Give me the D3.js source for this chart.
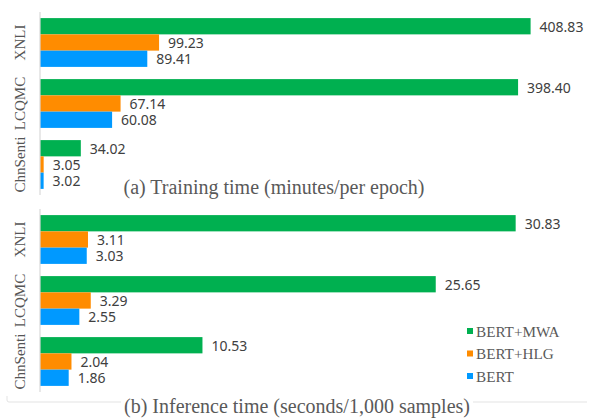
<!DOCTYPE html>
<html>
<head>
<meta charset="utf-8">
<script src="https://cdn.jsdelivr.net/npm/d3@7"></script>
<style>
  body { margin: 0; background: #fff; }
  svg { display: block; }
  .serif { font-family: 'Liberation Serif', 'Tinos', 'Times New Roman', 'DejaVu Serif', serif; }
  .sans { font-family: 'Noto Sans', 'Open Sans', sans-serif; }
</style>
</head>
<body>
<svg id="chart" width="589" height="419"></svg>
<script>
// data
const datasets = ['XNLI', 'LCQMC', 'ChnSenti'];
const models = ['BERT+MWA', 'BERT+HLG', 'BERT'];
const colors = ['#00b050', '#ff8c00', '#0099ff'];

const trainMWA = [408.83, 398.40, 34.02];
const trainHLG = [99.23, 67.14, 3.05];
const trainBERT = [89.41, 60.08, 3.02];

const inferMWA = [30.83, 25.65, 10.53];
const inferHLG = [3.11, 3.29, 2.04];
const inferBERT = [3.03, 2.55, 1.86];

const captions = ['(a) Training time (minutes/per epoch)', '(b) Inference time (seconds/1,000 samples)'];

const svg = d3.select('#chart');

const color = d3.scaleOrdinal().domain(models).range(colors);

// one panel = one little grouped bar chart
function drawPanel(series, xMax, yRange, fmt) {
  const x = d3.scaleLinear().domain([0, xMax]).range([40, 580]);
  const y = d3.scaleBand().domain(datasets).range(yRange)
    .paddingInner(0.2).paddingOuter(0.1);
  const ySub = d3.scaleBand().domain(models).range([0, y.bandwidth()]);

  const rows = [];
  datasets.forEach((d, i) => {
    models.forEach((m, j) => {
      rows.push({ dataset: d, model: m, value: series[j][i] });
    });
  });

  const g = svg.append('g');

  g.selectAll('rect.bar')
    .data(rows)
    .join('rect')
    .attr('class', 'bar')
    .attr('x', x(0))
    .attr('y', d => y(d.dataset) + ySub(d.model))
    .attr('width', d => x(d.value) - x(0))
    .attr('height', ySub.bandwidth())
    .attr('fill', d => color(d.model));

  g.selectAll('text.val')
    .data(rows)
    .join('text')
    .attr('class', 'val sans')
    .attr('x', d => x(d.value) + 9)
    .attr('y', d => y(d.dataset) + ySub(d.model) + ySub.bandwidth() / 2)
    .attr('dominant-baseline', 'central')
    .attr('font-size', 14)
    .attr('fill', '#404040')
    .text(d => fmt(d.value));

  // vertical axis line
  g.append('line')
    .attr('x1', 40).attr('x2', 40)
    .attr('y1', yRange[0]).attr('y2', yRange[1])
    .attr('stroke', '#d9d9d9')
    .attr('stroke-width', 1.2);

  g.selectAll('text.cat')
    .data(datasets)
    .join('text')
    .attr('class', 'cat serif')
    .attr('transform', d => `translate(25,${y(d) + y.bandwidth() / 2}) rotate(-90)`)
    .attr('text-anchor', 'middle')
    .attr('font-size', 15)
    .attr('fill', '#555')
    .text(d => d);
}

drawPanel([trainMWA, trainHLG, trainBERT], 450, [12, 195], d3.format('.2f'));
drawPanel([inferMWA, inferHLG, inferBERT], 35, [209, 392], d3.format('.2f'));

// light frame line along the bottom
svg.append('path')
  .attr('d', 'M7,396 L7,400 Q7,402 9,402 L587,402')
  .attr('fill', 'none')
  .attr('stroke', '#e3e3e3');

// captions
svg.append('text')
  .attr('class', 'serif')
  .attr('x', 274).attr('y', 194)
  .attr('text-anchor', 'middle')
  .attr('font-size', 20)
  .attr('fill', '#595959')
  .text(captions[0]);

const capBbg = svg.append('rect').attr('fill', '#fff');
const capB = svg.append('text')
  .attr('class', 'serif')
  .attr('x', 297).attr('y', 413)
  .attr('text-anchor', 'middle')
  .attr('font-size', 20)
  .attr('fill', '#595959')
  .text(captions[1]);
const bb = capB.node().getBBox();
capBbg.attr('x', bb.x - 3).attr('y', 399).attr('width', bb.width + 6).attr('height', 8);

// legend
const legend = svg.append('g')
  .selectAll('g')
  .data(models)
  .join('g')
  .attr('transform', (d, i) => `translate(467,${331 + i * 22.5})`);

legend.append('rect')
  .attr('x', 0).attr('y', -3)
  .attr('width', 6).attr('height', 6)
  .attr('fill', d => color(d));

legend.append('text')
  .attr('class', 'serif')
  .attr('x', 9)
  .attr('dominant-baseline', 'central')
  .attr('font-size', 15.2)
  .attr('fill', '#595959')
  .text(d => d);
</script>
</body>
</html>
